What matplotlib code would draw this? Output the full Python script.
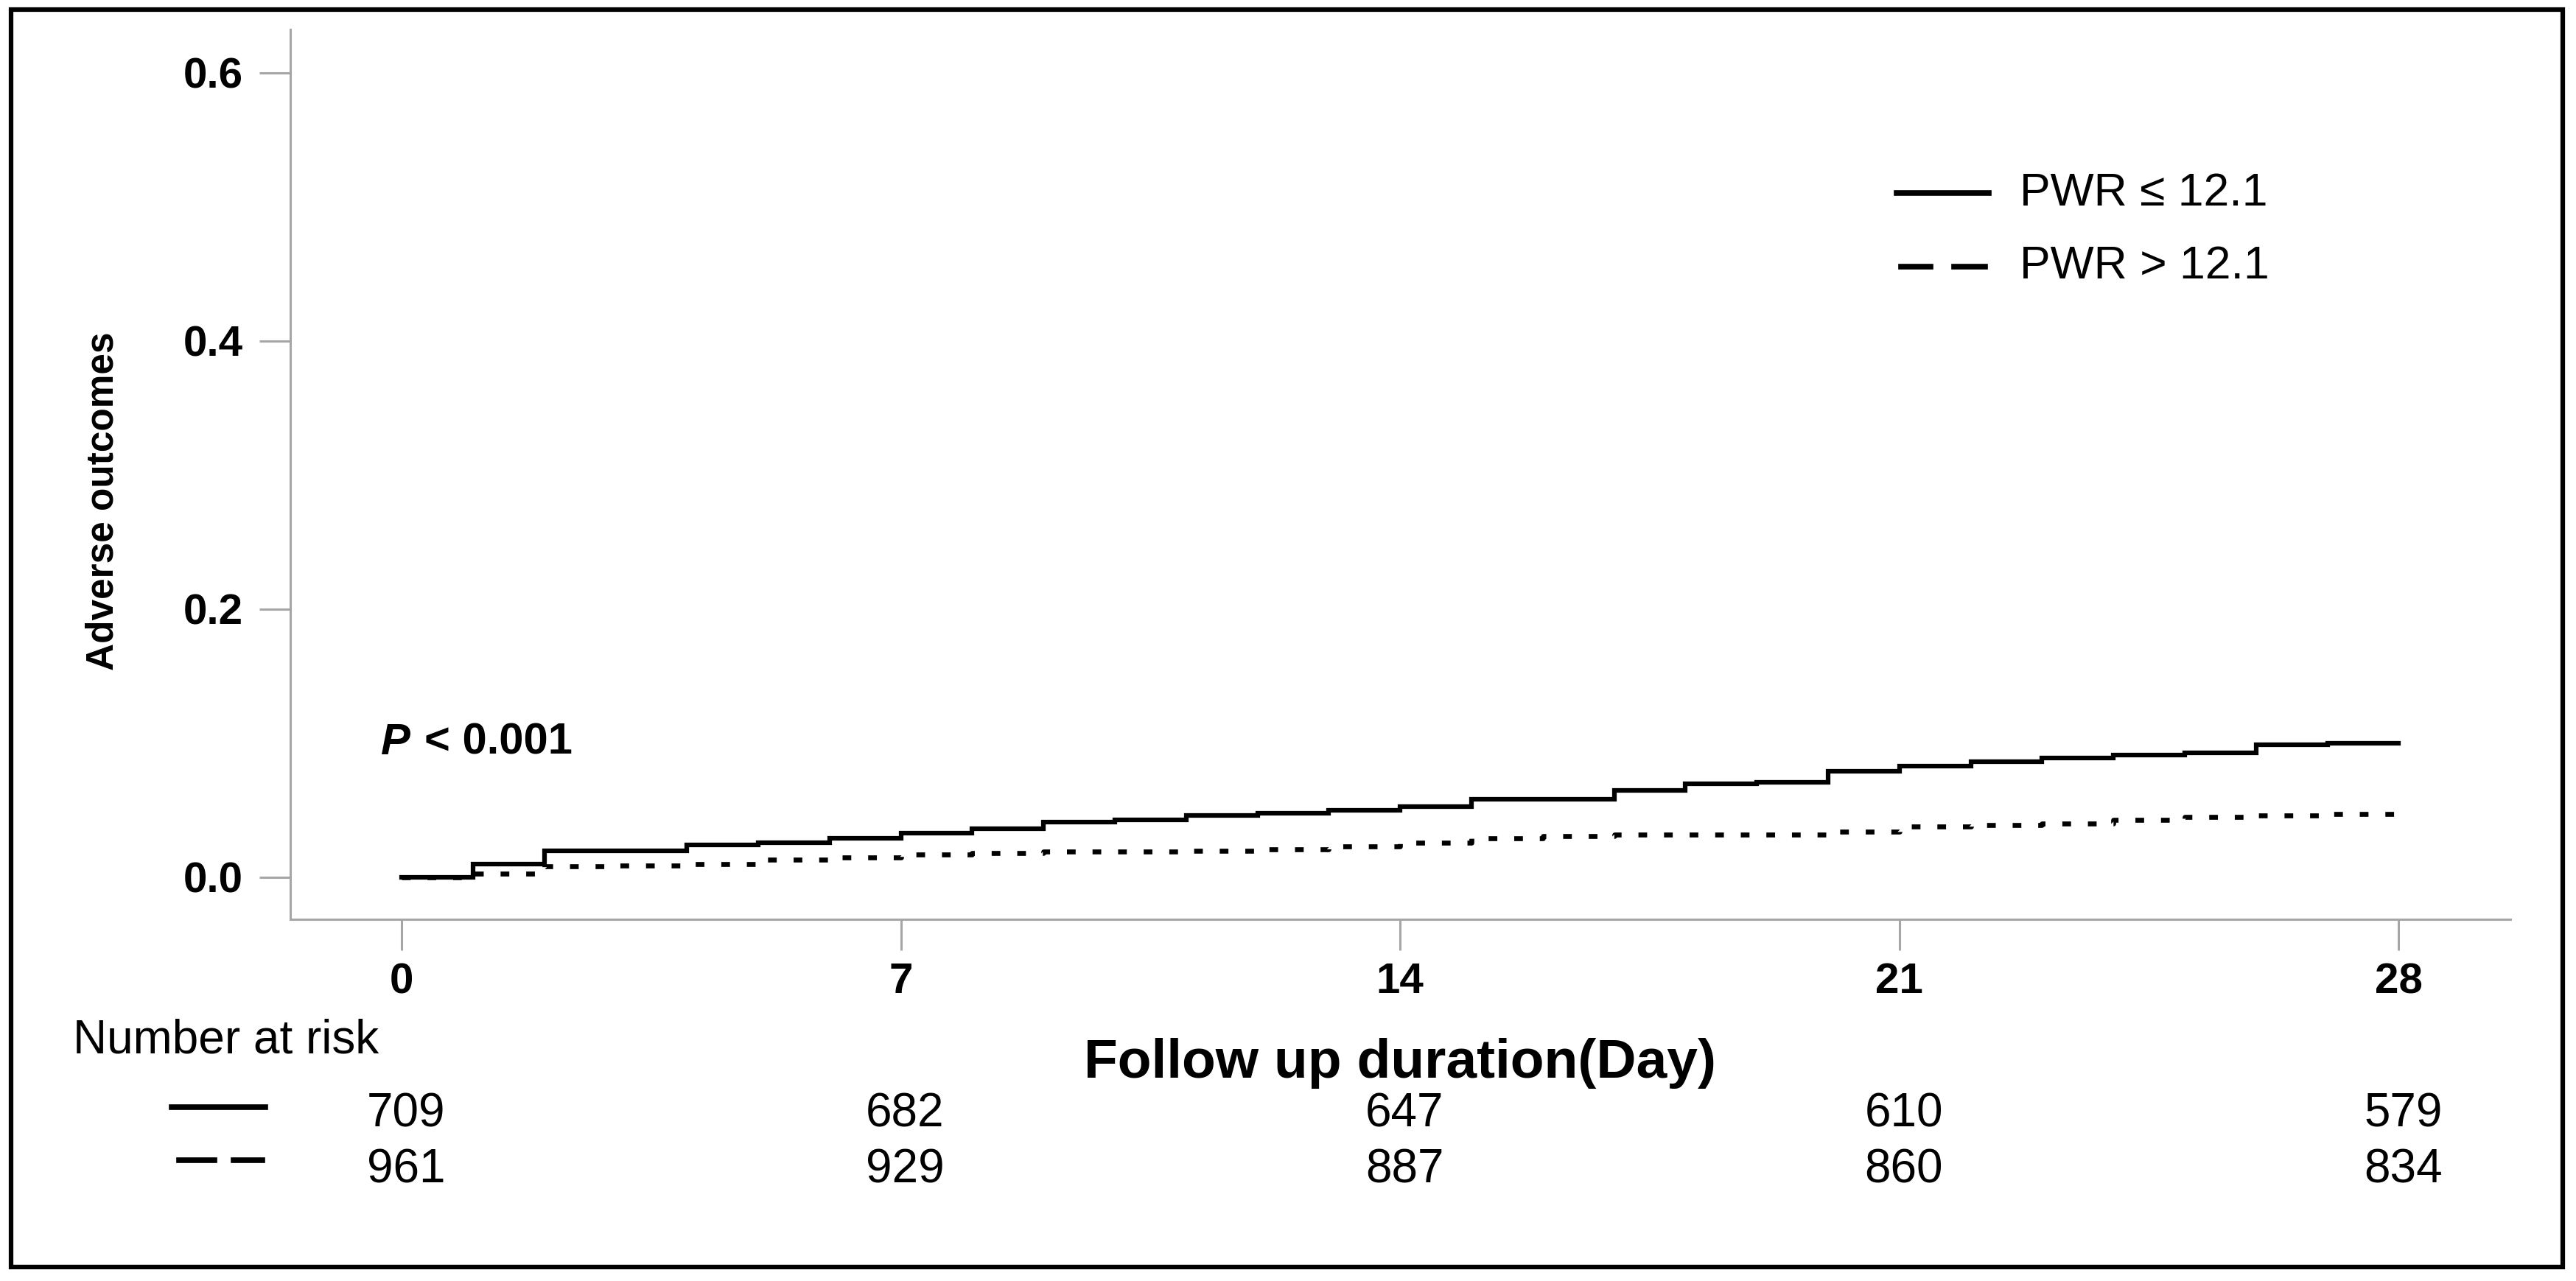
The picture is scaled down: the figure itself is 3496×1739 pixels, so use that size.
import matplotlib
matplotlib.use("Agg")
import matplotlib.pyplot as plt
from matplotlib.lines import Line2D
from matplotlib.patches import Rectangle
import matplotlib.transforms as mtransforms

plt.rcParams['font.family'] = ['Liberation Sans', 'DejaVu Sans']
plt.rcParams['lines.scale_dashes'] = False

# ---------------- data ----------------
days = list(range(0, 29))
pwr_low = [0.000, 0.010, 0.020, 0.020, 0.024, 0.026, 0.029, 0.033, 0.036, 0.041,
           0.043, 0.046, 0.048, 0.050, 0.053, 0.058, 0.058, 0.065, 0.070, 0.071,
           0.079, 0.083, 0.086, 0.089, 0.091, 0.093, 0.099, 0.100, 0.100]
pwr_high = [0.000, 0.003, 0.008, 0.009, 0.010, 0.013, 0.015, 0.017, 0.018, 0.019,
            0.019, 0.020, 0.021, 0.023, 0.026, 0.029, 0.031, 0.032, 0.032, 0.032,
            0.034, 0.038, 0.039, 0.040, 0.043, 0.045, 0.046, 0.047, 0.048]
x_ticks = [0, 7, 14, 21, 28]
y_ticks = [0.0, 0.2, 0.4, 0.6]
risk_low = [709, 682, 647, 610, 579]
risk_high = [961, 929, 887, 860, 834]
legend_labels = ["PWR \u2264 12.1", "PWR > 12.1"]

# ---------------- figure ----------------
W, H = 3496, 1739
fig = plt.figure(figsize=(W / 100, H / 100), dpi=100)

def fx(x):
    return x / W

def fy(y):
    return 1 - y / H

ax_left, ax_right, ax_top, ax_bottom = 394, 3407, 40, 1248
ax = fig.add_axes([fx(ax_left), fy(ax_bottom), fx(ax_right) - fx(ax_left), fy(ax_top) - fy(ax_bottom)])

day0_px, px_per_day = 545.0, 96.8
ax.set_xlim((ax_left - day0_px) / px_per_day, (ax_right - day0_px) / px_per_day)
y0_px, px_per_unit = 1191.0, 1820.0
ax.set_ylim(-(ax_bottom - y0_px) / px_per_unit, (y0_px - ax_top) / px_per_unit)

ax.step(days, pwr_low, where='post', color='black', lw=4.5, solid_joinstyle='miter')
ax.step(days, pwr_high, where='post', color='black', lw=4.8, linestyle=(0, (8.5, 16.5)))

grey = '#a6a6a6'
for s in ['top', 'right']:
    ax.spines[s].set_visible(False)
for s in ['left', 'bottom']:
    ax.spines[s].set_color(grey)
    ax.spines[s].set_linewidth(2.2)

ax.set_xticks(x_ticks)
ax.set_xticklabels([str(t) for t in x_ticks])
ax.set_yticks(y_ticks)
ax.set_yticklabels([f"{t:.1f}" for t in y_ticks])
ax.tick_params(axis='both', colors=grey, length=30, width=2.2, labelcolor='black', labelsize=42)
ax.tick_params(axis='y', pad=16)
ax.tick_params(axis='x', pad=12)
for lab in ax.get_xticklabels() + ax.get_yticklabels():
    lab.set_fontweight('bold')

# y label
fig.text(fx(140), fy(680), "Adverse outcomes", rotation=90, ha='center', va='center',
         fontsize=37, fontweight='bold')

# P value
fig.text(fx(517), fy(1008), "P", fontsize=43, ha='left', va='center', fontweight='bold',
         fontstyle='italic')
fig.text(fx(576), fy(1008), "< 0.001", fontsize=43, ha='left', va='center', fontweight='bold')

# legend (inside plot)
leg_y = [262, 362]
fig.add_artist(Line2D([fx(2574), fx(2699)], [fy(leg_y[0]), fy(leg_y[0])], color='black', lw=5.5))
fig.add_artist(Line2D([fx(2580), fx(2620)], [fy(leg_y[1]), fy(leg_y[1])], color='black', lw=5.5))
fig.add_artist(Line2D([fx(2652), fx(2694)], [fy(leg_y[1]), fy(leg_y[1])], color='black', lw=5.5))
for yy, lab in zip(leg_y, legend_labels):
    fig.text(fx(2741), fy(yy), lab, fontsize=45, ha='left', va='center')

# x label
fig.text(fx(1900), fy(1443), "Follow up duration(Day)", fontsize=54, fontweight='bold',
         ha='center', va='center')

# risk table
fig.text(fx(99), fy(1412), "Number at risk", fontsize=46, ha='left', va='center')
fig.add_artist(Line2D([fx(233), fx(360)], [fy(1503), fy(1503)], color='black', lw=5.5))
fig.add_artist(Line2D([fx(243), fx(291)], [fy(1575), fy(1575)], color='black', lw=5.5))
fig.add_artist(Line2D([fx(317), fx(356)], [fy(1575), fy(1575)], color='black', lw=5.5))
trans = mtransforms.blended_transform_factory(ax.transData, fig.transFigure)
for t, a, b in zip(x_ticks, risk_low, risk_high):
    fig.text(t + 0.06, fy(1513), str(a), transform=trans, fontsize=46, ha='center', va='center')
    fig.text(t + 0.06, fy(1588), str(b), transform=trans, fontsize=46, ha='center', va='center')

# outer border
fig.add_artist(Rectangle((fx(15), fy(1720)), fx(3478) - fx(15), fy(13) - fy(1720),
                         fill=False, edgecolor='black', lw=4.5, transform=fig.transFigure))

fig.savefig("out.png", dpi=100)
